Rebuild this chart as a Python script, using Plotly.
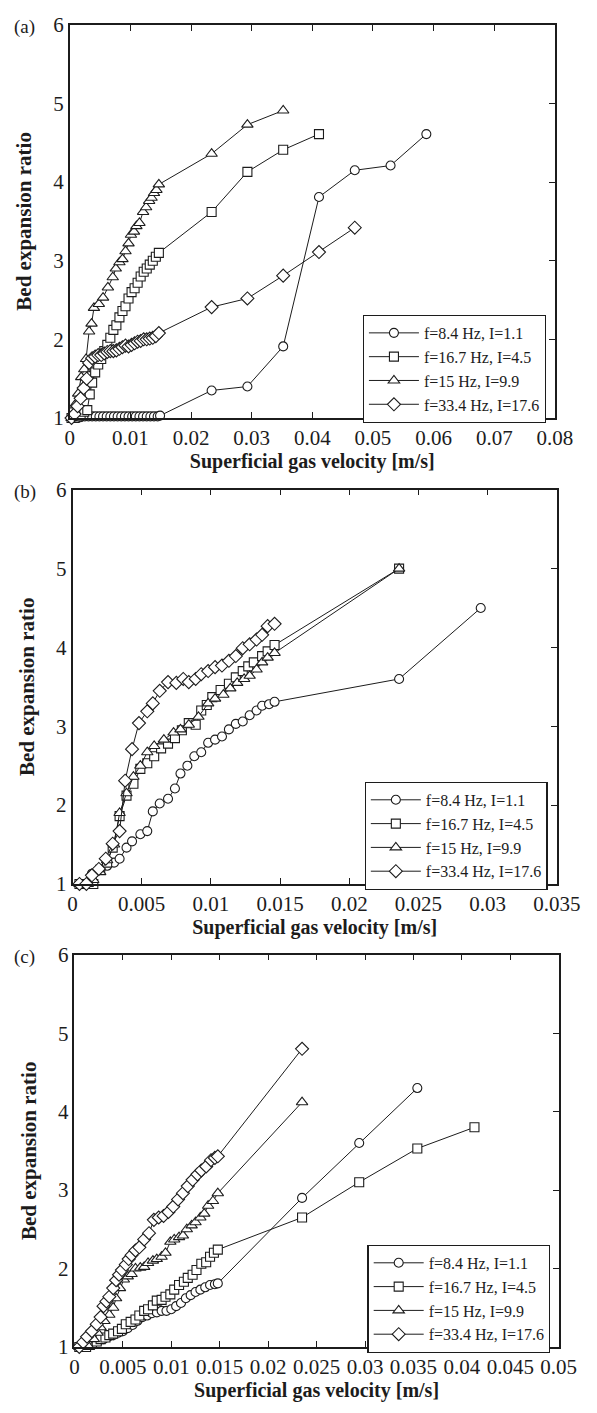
import plotly.graph_objects as go

FONT = "Liberation Serif"
INK = "#1c1c1c"
W, H = 597, 1413

series_names = ["f=8.4 Hz, I=1.1", "f=16.7 Hz, I=4.5", "f=15 Hz, I=9.9", "f=33.4 Hz, I=17.6"]
symbols = ["circle", "square", "triangle-up", "diamond"]
marker_sizes = [9, 9, 10, 10]

# ---------------- panel (a) ----------------
a_circ_x = [0.0003, 0.0008, 0.0013, 0.0018, 0.0025, 0.0031, 0.0037, 0.0043, 0.0049, 0.0055, 0.0061, 0.0067,
            0.0073, 0.0079, 0.0085, 0.0091, 0.0097, 0.0103, 0.0109, 0.0115, 0.0121, 0.0127, 0.0133, 0.0139,
            0.0145, 0.0149, 0.0234, 0.0293, 0.0352, 0.0411, 0.0470, 0.0529, 0.0588]
a_circ_y = [1.00, 1.00, 1.00, 1.01, 1.02, 1.02, 1.02, 1.02, 1.02, 1.02, 1.02, 1.02, 1.02, 1.02, 1.02, 1.02,
            1.02, 1.02, 1.02, 1.02, 1.02, 1.02, 1.02, 1.02, 1.02, 1.03, 1.35, 1.40, 1.91, 3.81, 4.15, 4.21, 4.61]
a_sq_x = [0.0003, 0.0008, 0.0013, 0.0018, 0.0024, 0.0029, 0.0033, 0.0037, 0.0042, 0.0047, 0.0052, 0.0057,
          0.0062, 0.0067, 0.0072, 0.0077, 0.0082, 0.0087, 0.0092, 0.0097, 0.0102, 0.0107, 0.0112, 0.0117,
          0.0122, 0.0127, 0.0132, 0.0137, 0.0142, 0.0147, 0.0234, 0.0293, 0.0352, 0.0411]
a_sq_y = [1.00, 1.00, 1.02, 1.04, 1.08, 1.10, 1.30, 1.45, 1.58, 1.68, 1.75, 1.85, 1.93, 2.02, 2.12, 2.18,
          2.28, 2.36, 2.42, 2.52, 2.60, 2.65, 2.72, 2.80, 2.86, 2.90, 2.95, 3.00, 3.05, 3.10, 3.62, 4.13, 4.41, 4.61]
a_tri_x = [0.0003, 0.0008, 0.0014, 0.0019, 0.0024, 0.0027, 0.0032, 0.0036, 0.0040, 0.0048, 0.0055, 0.0063,
           0.0071, 0.0076, 0.0082, 0.0087, 0.0092, 0.0097, 0.0101, 0.0106, 0.0110, 0.0115, 0.0121, 0.0126,
           0.0131, 0.0135, 0.0139, 0.0143, 0.0147, 0.0234, 0.0293, 0.0352]
a_tri_y = [1.00, 1.16, 1.31, 1.52, 1.62, 1.75, 2.10, 2.20, 2.40, 2.45, 2.53, 2.66, 2.79, 2.90, 2.98, 3.02,
           3.12, 3.22, 3.33, 3.37, 3.44, 3.48, 3.62, 3.68, 3.76, 3.80, 3.86, 3.90, 3.97, 4.36, 4.73, 4.91]
a_dia_x = [0.0003, 0.0008, 0.0013, 0.0018, 0.0023, 0.0028, 0.0032, 0.0037, 0.0042, 0.0047, 0.0052, 0.0057,
           0.0062, 0.0067, 0.0072, 0.0077, 0.0082, 0.0087, 0.0092, 0.0097, 0.0102, 0.0107, 0.0112, 0.0117,
           0.0122, 0.0127, 0.0132, 0.0137, 0.0142, 0.0147, 0.0234, 0.0293, 0.0352, 0.0411, 0.0470]
a_dia_y = [1.00, 1.05, 1.15, 1.25, 1.38, 1.50, 1.70, 1.76, 1.78, 1.80, 1.80, 1.82, 1.84, 1.85, 1.85, 1.86,
           1.88, 1.90, 1.92, 1.91, 1.93, 1.95, 1.97, 1.98, 2.00, 2.00, 2.01, 2.02, 2.04, 2.08, 2.41, 2.52, 2.81,
           3.11, 3.42]

# ---------------- panel (b) ----------------
b_circ_x = [0.0005, 0.0011, 0.0014, 0.0020, 0.0025, 0.0030, 0.0034, 0.0039, 0.0043, 0.0049, 0.0054, 0.0058,
            0.0063, 0.0069, 0.0074, 0.0078, 0.0083, 0.0088, 0.0093, 0.0098, 0.0103, 0.0108, 0.0113, 0.0118,
            0.0123, 0.0128, 0.0133, 0.0137, 0.0142, 0.0146, 0.0236, 0.0295]
b_circ_y = [1.00, 1.00, 1.13, 1.18, 1.23, 1.27, 1.32, 1.46, 1.54, 1.63, 1.67, 1.92, 2.02, 2.08, 2.21, 2.40,
            2.50, 2.62, 2.67, 2.79, 2.83, 2.87, 2.96, 3.03, 3.06, 3.14, 3.20, 3.26, 3.28, 3.31, 3.60, 4.50]
b_sq_x = [0.0005, 0.0011, 0.0015, 0.0020, 0.0025, 0.0029, 0.0034, 0.0039, 0.0044, 0.0049, 0.0054, 0.0059,
          0.0064, 0.0069, 0.0074, 0.0079, 0.0084, 0.0089, 0.0093, 0.0097, 0.0101, 0.0107, 0.0113, 0.0118,
          0.0123, 0.0127, 0.0131, 0.0137, 0.0141, 0.0146, 0.0236]
b_sq_y = [1.00, 1.00, 1.00, 1.18, 1.27, 1.46, 1.86, 2.12, 2.27, 2.46, 2.53, 2.62, 2.72, 2.78, 2.85, 2.95,
          3.04, 3.02, 3.20, 3.27, 3.37, 3.46, 3.54, 3.62, 3.70, 3.76, 3.81, 3.89, 3.95, 4.03, 5.00]
b_tri_x = [0.0005, 0.0011, 0.0015, 0.0020, 0.0025, 0.0030, 0.0034, 0.0039, 0.0044, 0.0049, 0.0054, 0.0059,
           0.0066, 0.0073, 0.0078, 0.0084, 0.0091, 0.0098, 0.0103, 0.0109, 0.0114, 0.0119, 0.0124, 0.0128,
           0.0133, 0.0137, 0.0141, 0.0146, 0.0236]
b_tri_y = [1.00, 1.00, 1.05, 1.15, 1.30, 1.50, 1.90, 2.15, 2.36, 2.50, 2.67, 2.75, 2.83, 2.92, 2.96, 3.02,
           3.12, 3.29, 3.35, 3.40, 3.48, 3.55, 3.60, 3.64, 3.72, 3.81, 3.87, 3.93, 5.00]
b_dia_x = [0.0005, 0.0010, 0.0014, 0.0019, 0.0024, 0.0029, 0.0034, 0.0038, 0.0043, 0.0048, 0.0054, 0.0058,
           0.0063, 0.0069, 0.0075, 0.0080, 0.0084, 0.0089, 0.0093, 0.0098, 0.0103, 0.0108, 0.0113, 0.0118,
           0.0123, 0.0128, 0.0133, 0.0137, 0.0141, 0.0146]
b_dia_y = [1.00, 1.00, 1.11, 1.19, 1.32, 1.51, 1.67, 2.31, 2.71, 3.04, 3.19, 3.29, 3.45, 3.56, 3.55, 3.60,
           3.56, 3.60, 3.66, 3.70, 3.75, 3.77, 3.83, 3.89, 3.99, 4.04, 4.10, 4.16, 4.27, 4.30]

# ---------------- panel (c) ----------------
c_circ_x = [0.0005, 0.0010, 0.0015, 0.0020, 0.0025, 0.0030, 0.0035, 0.0040, 0.0045, 0.0050, 0.0055, 0.0060,
            0.0065, 0.0070, 0.0075, 0.0080, 0.0085, 0.0090, 0.0095, 0.0100, 0.0105, 0.0110, 0.0115, 0.0120,
            0.0125, 0.0130, 0.0135, 0.0140, 0.0145, 0.0148, 0.0235, 0.0294, 0.0354]
c_circ_y = [1.00, 1.02, 1.04, 1.06, 1.08, 1.10, 1.13, 1.15, 1.18, 1.20, 1.24, 1.28, 1.33, 1.38, 1.40, 1.43,
            1.44, 1.46, 1.46, 1.48, 1.52, 1.56, 1.62, 1.66, 1.70, 1.73, 1.76, 1.79, 1.80, 1.81, 2.90, 3.60, 4.30]
c_sq_x = [0.0005, 0.0012, 0.0018, 0.0023, 0.0027, 0.0032, 0.0036, 0.0040, 0.0045, 0.0049, 0.0053, 0.0058,
          0.0063, 0.0067, 0.0072, 0.0076, 0.0081, 0.0085, 0.0090, 0.0094, 0.0099, 0.0103, 0.0108, 0.0113,
          0.0117, 0.0122, 0.0126, 0.0131, 0.0136, 0.0140, 0.0144, 0.0148, 0.0235, 0.0294, 0.0354, 0.0413]
c_sq_y = [1.00, 1.00, 1.04, 1.07, 1.10, 1.12, 1.15, 1.17, 1.20, 1.23, 1.29, 1.32, 1.35, 1.40, 1.46, 1.48,
          1.53, 1.59, 1.60, 1.64, 1.67, 1.73, 1.79, 1.83, 1.88, 1.92, 1.98, 2.06, 2.08, 2.15, 2.20, 2.24,
          2.65, 3.10, 3.53, 3.80]
c_tri_x = [0.0005, 0.0010, 0.0015, 0.0020, 0.0024, 0.0027, 0.0031, 0.0036, 0.0040, 0.0043, 0.0047, 0.0051,
           0.0055, 0.0059, 0.0063, 0.0068, 0.0072, 0.0076, 0.0081, 0.0085, 0.0090, 0.0094, 0.0099, 0.0103,
           0.0108, 0.0112, 0.0116, 0.0121, 0.0125, 0.0130, 0.0134, 0.0138, 0.0143, 0.0148, 0.0235]
c_tri_y = [1.00, 1.00, 1.00, 1.10, 1.18, 1.25, 1.33, 1.41, 1.50, 1.62, 1.75, 1.86, 1.90, 1.93, 2.00, 2.01,
           2.02, 2.07, 2.10, 2.12, 2.15, 2.20, 2.34, 2.37, 2.40, 2.42, 2.50, 2.55, 2.59, 2.65, 2.70, 2.80,
           2.86, 2.96, 4.12]
c_dia_x = [0.0005, 0.0009, 0.0013, 0.0018, 0.0023, 0.0027, 0.0030, 0.0033, 0.0036, 0.0040, 0.0043, 0.0046,
           0.0049, 0.0053, 0.0056, 0.0059, 0.0063, 0.0067, 0.0072, 0.0077, 0.0082, 0.0087, 0.0092, 0.0097,
           0.0102, 0.0107, 0.0112, 0.0117, 0.0122, 0.0127, 0.0131, 0.0136, 0.0141, 0.0145, 0.0148, 0.0235]
c_dia_y = [1.00, 1.06, 1.13, 1.20, 1.29, 1.38, 1.52, 1.58, 1.64, 1.75, 1.85, 1.92, 1.98, 2.05, 2.12, 2.17,
           2.23, 2.27, 2.37, 2.45, 2.62, 2.65, 2.67, 2.72, 2.79, 2.88, 2.96, 3.05, 3.13, 3.20, 3.25, 3.30,
           3.38, 3.41, 3.43, 4.80]

x_ticks_a = [0, 0.01, 0.02, 0.03, 0.04, 0.05, 0.06, 0.07, 0.08]
x_labels_a = ["0", "0.01", "0.02", "0.03", "0.04", "0.05", "0.06", "0.07", "0.08"]
x_ticks_b = [0, 0.005, 0.01, 0.015, 0.02, 0.025, 0.03, 0.035]
x_labels_b = ["0", "0.005", "0.01", "0.015", "0.02", "0.025", "0.03", "0.035"]
x_ticks_c = [0, 0.005, 0.01, 0.015, 0.02, 0.025, 0.03, 0.035, 0.04, 0.045, 0.05]
x_labels_c = ["0", "0.005", "0.01", "0.015", "0.02", "0.025", "0.03", "0.035", "0.04", "0.045", "0.05"]
y_ticks = [1, 2, 3, 4, 5, 6]
y_labels = ["1", "2", "3", "4", "5", "6"]

panel_letters = ["(a)", "(b)", "(c)"]
x_title = "Superficial gas velocity [m/s]"
y_title = "Bed expansion ratio"

panels = [
    dict(series=[(a_circ_x, a_circ_y), (a_sq_x, a_sq_y), (a_tri_x, a_tri_y), (a_dia_x, a_dia_y)],
         xmax=0.08, xt=x_ticks_a, xl=x_labels_a, box=(68, 13, 578, 413), leg=(376, 308)),
    dict(series=[(b_circ_x, b_circ_y), (b_sq_x, b_sq_y), (b_tri_x, b_tri_y), (b_dia_x, b_dia_y)],
         xmax=0.035, xt=x_ticks_b, xl=x_labels_b, box=(71, 486, 580, 887), leg=(378, 783)),
    dict(series=[(c_circ_x, c_circ_y), (c_sq_x, c_sq_y), (c_tri_x, c_tri_y), (c_dia_x, c_dia_y)],
         xmax=0.05, xt=x_ticks_c, xl=x_labels_c, box=(73, 959, 582, 1358), leg=(381, 1254)),
]

fig = go.Figure()
layout = dict(width=W, height=H, autosize=False, margin=dict(l=0, r=0, t=0, b=0),
              paper_bgcolor="white", plot_bgcolor="white",
              font=dict(family=FONT, color=INK, size=20), annotations=[])

for i, p in enumerate(panels):
    n = i + 1
    sfx = "" if n == 1 else str(n)
    xa, ya = "x" + sfx, "y" + sfx
    legname = "legend" + sfx
    for k, (xs, ys) in enumerate(p["series"]):
        fig.add_trace(go.Scatter(
            x=xs, y=ys, mode="lines+markers", name=series_names[k],
            xaxis=xa, yaxis=ya, legend=legname, cliponaxis=False,
            line=dict(color=INK, width=1),
            marker=dict(symbol=symbols[k], size=marker_sizes[k], color="white",
                        line=dict(color=INK, width=1.1)),
        ))
    x0, y0, x1, y1 = p["box"]
    xdom = [x0 / W, x1 / W]
    ydom = [1 - y1 / H, 1 - y0 / H]
    layout["xaxis" + sfx] = dict(
        domain=xdom, anchor=ya, range=[0, p["xmax"]], tickvals=p["xt"], ticktext=p["xl"],
        showline=True, linecolor=INK, linewidth=1.5, mirror="ticks", ticks="inside", ticklen=6,
        tickcolor=INK, tickwidth=1.2, showgrid=False, zeroline=False,
        tickfont=dict(family=FONT, size=21, color=INK), ticklabelstandoff=0,
        title=dict(text="<b>" + x_title + "</b>", font=dict(family=FONT, size=20, color=INK), standoff=0),
    )
    layout["yaxis" + sfx] = dict(
        domain=ydom, anchor=xa, range=[1, 6], tickvals=y_ticks, ticktext=y_labels,
        showline=True, linecolor=INK, linewidth=1.5, mirror=True, ticks="",
        showgrid=False, zeroline=False, tickfont=dict(family=FONT, size=21, color=INK),
        title=dict(text="<b>" + y_title + "</b>", font=dict(family=FONT, size=21, color=INK), standoff=16),
    )
    # right-hand tick marks (ticks only on the right side, as in the reference)
    layout["yaxis" + str(n + 3)] = dict(
        overlaying=ya, anchor=xa, side="right", range=[1, 6], tickvals=y_ticks,
        showticklabels=False, ticks="inside", ticklen=6, tickcolor=INK, tickwidth=1.2,
        showline=False, showgrid=False, zeroline=False,
    )
    layout[legname] = dict(
        x=p["leg"][0] / W, y=1 - p["leg"][1] / H, xanchor="left", yanchor="top",
        bgcolor="white", bordercolor=INK, borderwidth=1.2,
        font=dict(family=FONT, size=16, color=INK), tracegroupgap=0, itemwidth=50,
    )
    layout["annotations"].append(dict(
        text=panel_letters[i], xref="paper", yref="paper", x=7 / W, y=1 - (y0 + 2) / H,
        xanchor="left", yanchor="middle", showarrow=False,
        font=dict(family=FONT, size=19, color=INK)))

# dummy invisible traces so the right-tick overlay axes are drawn
for n in range(1, 4):
    sfx = "" if n == 1 else str(n)
    fig.add_trace(go.Scatter(x=[None], y=[None], xaxis="x" + sfx, yaxis="y" + str(n + 3),
                             showlegend=False, hoverinfo="skip"))

fig.update_layout(**layout)
fig.write_html("out.html")
